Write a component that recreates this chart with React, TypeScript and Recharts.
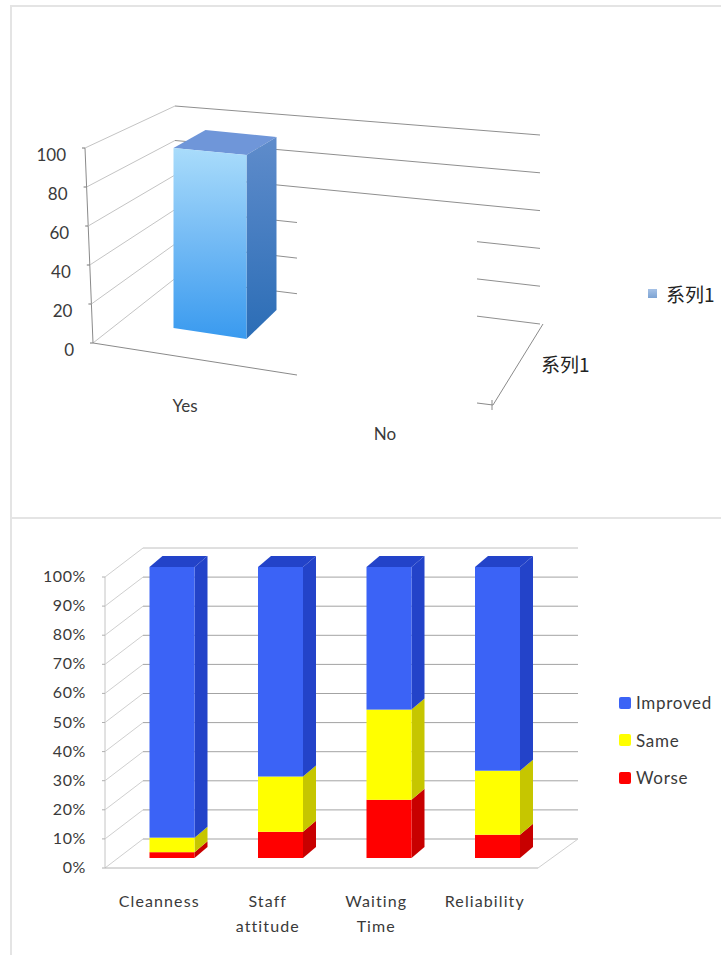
import { BarChart, Bar, XAxis, YAxis, CartesianGrid, Legend } from "recharts";

const answers = ["Yes", "No"];
const answerValues = [100, 0];
const answerSeries = "系列1";
const answerTicks = [0, 20, 40, 60, 80, 100];

const aspects = ["Cleanness", "Staff attitude", "Waiting Time", "Reliability"];
const worse = [2, 9, 20, 8];
const same = [5, 19, 31, 22];
const improved = [93, 72, 49, 70];
const percentTicks = [0, 10, 20, 30, 40, 50, 60, 70, 80, 90, 100];

const answerData = answers.map((name, i) => ({ name, value: answerValues[i] }));
const aspectData = aspects.map((name, i) => ({
	name,
	Worse: worse[i],
	Same: same[i],
	Improved: improved[i],
}));

const FONT = "Lato, sans-serif";
const CJK = "'Noto Sans CJK SC', sans-serif";
const TEXT = "#3a3a3a";

// top chart plot box (front face of the bar)
const A_TOP = 148;
const A_BOTTOM = 328;
// bottom chart plot box, y is relative to its own svg
const B_OFFSET = 518;
const B_TOP = 567 - B_OFFSET;
const B_BOTTOM = 858 - B_OFFSET;
const STACK_COLORS: Record<string, string[]> = {
	Improved: ["#3b63f6", "#2343c9"],
	Same: ["#ffff00", "#c6c600"],
	Worse: ["#ff0000", "#c80000"],
};
const legendOrder = ["Improved", "Same", "Worse"];

// where a level on the top chart's value axis lands on the walls
const frontLeft = (t: number) => [93 - 8 * t, 343 - 195 * t];
const backLeft = (t: number) => [175, 278.5 - 172.5 * t];
const backRight = (t: number) => [540, 324 - 189 * t];

function AnswerGridLine(props: any) {
	const t = Math.round(((A_BOTTOM - props.y1) / (A_BOTTOM - A_TOP)) * 100) / 100;
	const [fx, fy] = frontLeft(t);
	const [bx, by] = backLeft(t);
	const [rx, ry] = backRight(t);
	const at = (x: number) => by + ((ry - by) * (x - bx)) / (rx - bx);
	const wall = "#8f8f8f";
	return (
		<g key={props.key}>
			<line x1={fx} y1={fy} x2={bx} y2={by} stroke="#c4c4c4" />
			<line x1={fx} y1={fy} x2={fx - 3} y2={fy} stroke="#777" />
			{t <= 0.4 ? (
				<>
					<line x1={bx} y1={by} x2={297} y2={at(297)} stroke={wall} />
					<line x1={477} y1={at(477)} x2={rx} y2={ry} stroke={wall} />
				</>
			) : (
				<line x1={bx} y1={by} x2={rx} y2={ry} stroke={wall} />
			)}
			{t === 0 && (
				<>
					<line x1={85} y1={148} x2={93} y2={343} stroke="#8a8a8a" />
					<line x1={93} y1={343} x2={297} y2={375} stroke="#8a8a8a" />
					<line x1={477} y1={403} x2={493} y2={405} stroke="#8a8a8a" />
					<line x1={493} y1={405} x2={543} y2={324} stroke="#8a8a8a" />
					<line x1={492} y1={400} x2={492} y2={410} stroke="#8a8a8a" />
					<text x={541} y={372} fontFamily={CJK} fontSize={19} fill="#222">
						{answerSeries}
					</text>
				</>
			)}
		</g>
	);
}

function AnswerBar(props: any) {
	const { x, y, width: w, height: h } = props;
	if (!h) return null;
	return (
		<g>
			<polygon points={`${x},${y} ${x + w},${y + 7} ${x + w + 30},${y - 11} ${x + 32},${y - 18}`} fill="#6f96d9" />
			<polygon
				points={`${x + w},${y + 7} ${x + w + 30},${y - 11} ${x + w + 30},${y + h - 18} ${x + w},${y + h + 11}`}
				fill="url(#answerSide)"
			/>
			<polygon
				points={`${x},${y} ${x + w},${y + 7} ${x + w},${y + h + 11} ${x},${y + h}`}
				fill="url(#answerFront)"
			/>
		</g>
	);
}

function AnswerYTick({ payload, y }: any) {
	const t = (A_BOTTOM - y) / (A_BOTTOM - A_TOP);
	const [fx, fy] = frontLeft(t);
	return (
		<text x={fx - 19} y={fy + 13} textAnchor="end" fontFamily={FONT} fontSize={17} fill={TEXT}>
			{payload.value}
		</text>
	);
}

function AnswerXTick({ payload, x, y }: any) {
	// the floor falls to the right, so the labels do too
	const drop = ((x - 209.5) / 200) * 28;
	return (
		<text x={x - 24.5} y={y + 76 + drop} textAnchor="middle" fontFamily={FONT} fontSize={17} fill={TEXT}>
			{payload.value}
		</text>
	);
}

function AnswerLegend({ payload }: any) {
	return (
		<div>
			{(payload || []).map((item: any) => (
				<div key={item.value} style={{ display: "flex", alignItems: "center", height: 24 }}>
					<span style={{ width: 9, height: 9, marginRight: 9, background: "linear-gradient(#a6c2e6,#7da3d3)" }} />
					<span style={{ fontFamily: CJK, fontSize: 19, color: "#222" }}>{item.value}</span>
				</div>
			))}
		</div>
	);
}

// bottom chart: front plane of the axis sits left/below the bars, back wall right/above
const FRONT_DX = -12.5;
const FRONT_DY = 10;
const BACK_DX = 25.5;
const BACK_DY = -19;

function AspectGridLine(props: any) {
	const { x1, y1, x2, key } = props;
	const fx = x1 + FRONT_DX;
	const fy = y1 + FRONT_DY;
	const bx = x1 + BACK_DX;
	const by = y1 + BACK_DY;
	const rx = x2 + BACK_DX + 1;
	const atTop = Math.abs(y1 - B_TOP) < 1;
	const atFloor = Math.abs(y1 - B_BOTTOM) < 1;
	return (
		<g key={key}>
			<line x1={fx} y1={fy} x2={bx} y2={by} stroke="#cfcfcf" />
			<line x1={fx} y1={fy} x2={fx - 3} y2={fy} stroke="#b0b0b0" />
			<line x1={bx} y1={by} x2={rx} y2={by} stroke={atTop ? "#c0c0c0" : "#a3a3a3"} />
			{atFloor && (
				<>
					<line x1={105} y1={fy} x2={105} y2={fy - (B_BOTTOM - B_TOP)} stroke="#c4c4c4" />
					<line x1={105} y1={fy} x2={538} y2={fy} stroke="#b4b4b4" />
					<line x1={538} y1={fy} x2={rx} y2={by} stroke="#cfcfcf" />
				</>
			)}
		</g>
	);
}

const DEPTH_X = 13;
const DEPTH_Y = 11;

function stackShape(name: string, capped: boolean) {
	return (props: any) => {
		const { x, y, width: w, height: h } = props;
		const [front, side] = STACK_COLORS[name];
		return (
			<g>
				{capped && (
					<polygon
						points={`${x},${y} ${x + w},${y} ${x + w + DEPTH_X},${y - DEPTH_Y} ${x + DEPTH_X},${y - DEPTH_Y}`}
						fill={side}
					/>
				)}
				<polygon
					points={`${x + w},${y} ${x + w + DEPTH_X},${y - DEPTH_Y} ${x + w + DEPTH_X},${y + h - DEPTH_Y} ${x + w},${y + h}`}
					fill={side}
				/>
				<rect x={x} y={y} width={w} height={h} fill={front} />
			</g>
		);
	};
}

function AspectYTick({ payload, y }: any) {
	return (
		<text x={86} y={y + FRONT_DY + 5} textAnchor="end" fontFamily={FONT} fontSize={16} letterSpacing={0.6} fill={TEXT}>
			{payload.value}%
		</text>
	);
}

function AspectXTick({ payload, x, y }: any) {
	const words = String(payload.value).split(" ");
	return (
		<text textAnchor="middle" fontFamily={FONT} fontSize={16} letterSpacing={1.1} fill={TEXT}>
			{words.map((word, i) => (
				<tspan key={word} x={x + FRONT_DX} y={y + 41 + i * 25}>
					{word}
				</tspan>
			))}
		</text>
	);
}

function AspectLegend({ payload }: any) {
	const items = [...(payload || [])].sort((a, b) => legendOrder.indexOf(a.value) - legendOrder.indexOf(b.value));
	return (
		<div>
			{items.map((item: any) => (
				<div key={item.value} style={{ display: "flex", alignItems: "center", height: 37.5 }}>
					<span
						style={{
							width: 12,
							height: 12,
							marginRight: 5,
							borderRadius: 2,
							background: STACK_COLORS[item.value][0],
						}}
					/>
					<span style={{ fontFamily: FONT, fontSize: 17, letterSpacing: 0.7, color: TEXT }}>{item.value}</span>
				</div>
			))}
		</div>
	);
}

const panel = (top: number, height: number) => ({
	position: "absolute" as const,
	left: 10,
	top,
	width: 711,
	height,
	background: "#fff",
	borderLeft: "2px solid #e4e4e4",
	borderTop: "2px solid #e4e4e4",
	boxSizing: "border-box" as const,
});

export default function App() {
	return (
		<div style={{ position: "absolute", left: 0, top: 0, width: 721, height: 955, background: "#fff", overflow: "hidden" }}>
			<div style={panel(5, 513)} />
			<div style={panel(517, 438)} />

			<div style={{ position: "absolute", left: 0, top: 0 }}>
				<BarChart
					width={721}
					height={517}
					data={answerData}
					barCategoryGap={0}
					margin={{ top: A_TOP, right: 111.5, bottom: 149, left: 49.5 }}
				>
					<defs>
						<linearGradient id="answerFront" x1="0" y1="0" x2="0" y2="1">
							<stop offset="0%" stopColor="#a9dcfb" />
							<stop offset="45%" stopColor="#78bdf5" />
							<stop offset="100%" stopColor="#399aef" />
						</linearGradient>
						<linearGradient id="answerSide" x1="0" y1="0" x2="0" y2="1">
							<stop offset="0%" stopColor="#5f8ccb" />
							<stop offset="100%" stopColor="#2b6db6" />
						</linearGradient>
					</defs>
					<CartesianGrid vertical={false} horizontal={AnswerGridLine} />
					<XAxis dataKey="name" axisLine={false} tickLine={false} height={40} tick={AnswerXTick} />
					<YAxis width={60} domain={[0, 100]} ticks={answerTicks} axisLine={false} tickLine={false} tick={AnswerYTick} />
					<Legend
						layout="vertical"
						align="right"
						verticalAlign="top"
						width={100}
						content={AnswerLegend}
						wrapperStyle={{ left: 648, top: 281, right: "auto" }}
					/>
					<Bar dataKey="value" name={answerSeries} barSize={73} shape={AnswerBar} isAnimationActive={false} />
				</BarChart>
			</div>

			<div style={{ position: "absolute", left: 0, top: B_OFFSET }}>
				<BarChart
					width={721}
					height={437}
					data={aspectData}
					margin={{ top: B_TOP, right: 69.5, bottom: 437 - B_BOTTOM - 40, left: 57.5 }}
				>
					<CartesianGrid vertical={false} horizontal={AspectGridLine} />
					<XAxis dataKey="name" axisLine={false} tickLine={false} height={40} interval={0} tick={AspectXTick} />
					<YAxis width={60} domain={[0, 100]} ticks={percentTicks} axisLine={false} tickLine={false} tick={AspectYTick} />
					<Legend
						layout="vertical"
						align="right"
						verticalAlign="top"
						width={100}
						content={AspectLegend}
						wrapperStyle={{ left: 619, top: 166, right: "auto" }}
					/>
					<Bar dataKey="Worse" stackId="a" barSize={45} fill="#ff0000" shape={stackShape("Worse", false)} isAnimationActive={false} />
					<Bar dataKey="Same" stackId="a" barSize={45} fill="#ffff00" shape={stackShape("Same", false)} isAnimationActive={false} />
					<Bar dataKey="Improved" stackId="a" barSize={45} fill="#3b63f6" shape={stackShape("Improved", true)} isAnimationActive={false} />
				</BarChart>
			</div>
		</div>
	);
}
